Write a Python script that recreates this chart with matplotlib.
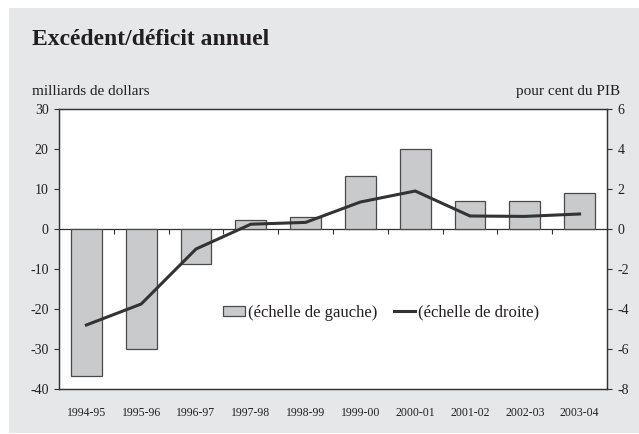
import matplotlib.pyplot as plt
from matplotlib.patches import Rectangle
import numpy as np

plt.rcParams['font.family'] = ['Liberation Serif', 'DejaVu Serif']
plt.rcParams['axes.unicode_minus'] = False

# annual surplus/deficit, federal
years = ["1994-95", "1995-96", "1996-97", "1997-98", "1998-99",
         "1999-00", "2000-01", "2001-02", "2002-03", "2003-04"]
billions = [-36.8, -30.1, -8.7, 2.2, 2.9, 13.2, 20.1, 7.1, 7.0, 9.1]   # left scale
pct_gdp = [-4.8, -3.75, -1.0, 0.24, 0.33, 1.35, 1.9, 0.65, 0.63, 0.75]  # right scale

ink = '#231f20'
frame = '#333333'
bg = '#e6e7e8'

fig = plt.figure(figsize=(6.39, 4.34), dpi=100, facecolor='white')
fig.patches.append(Rectangle((9 / 639, 1 / 434), 1 - 9 / 639, 425 / 434,
                             transform=fig.transFigure, facecolor=bg,
                             edgecolor='none', zorder=-10))

ax = fig.add_axes([59 / 639, 45 / 434, 548 / 639, 280 / 434])
ax2 = ax.twinx()

x = np.arange(len(years))
ax.bar(x, billions, width=0.56, color='#c9cacc', edgecolor='#4a4a4a',
       linewidth=0.9, label='(échelle de gauche)', zorder=2)
ax2.plot(x, pct_gdp, color=frame, lw=2.2, label='(échelle de droite)',
         solid_joinstyle='miter', zorder=3)

ax.set_xlim(-0.5, len(years) - 0.5)
ax.set_ylim(-40, 30)
ax.set_yticks(range(-40, 31, 10))
ax2.set_ylim(-8, 6)
ax2.set_yticks(range(-8, 7, 2))

ax.set_xticks(x)
ax.set_xticklabels(years)
ax.tick_params(axis='x', length=0, pad=13, labelsize=8.5, colors=ink)
ax.tick_params(axis='y', length=3.5, width=0.8, pad=4, labelsize=10,
               colors=ink, color=frame)
ax2.tick_params(axis='y', length=3.5, width=0.8, pad=4, labelsize=10,
                colors=ink, color=frame)

for a in (ax, ax2):
    for s in a.spines.values():
        s.set_color(frame)
        s.set_linewidth(0.9)

# zero line with ticks between the years
zero = ax.secondary_xaxis(0, transform=ax.transData)
zero.set_xticks(x[:-1] + 0.5)
zero.tick_params(axis='x', direction='out', length=3.5, width=0.8,
                 color=frame, labelbottom=False)
zero.spines['bottom'].set_color(frame)
zero.spines['bottom'].set_linewidth(0.9)

fig.text(32 / 639, 1 - 45 / 434, 'Excédent/déficit annuel', fontsize=17,
         fontweight='bold', color=ink, ha='left', va='baseline')
fig.text(32 / 639, 1 - 95 / 434, 'milliards de dollars', fontsize=11,
         color=ink, ha='left', va='baseline')
fig.text(620 / 639, 1 - 95 / 434, 'pour cent du PIB', fontsize=11,
         color=ink, ha='right', va='baseline')

h1, l1 = ax.get_legend_handles_labels()
h2, l2 = ax2.get_legend_handles_labels()
leg = ax2.legend(h1 + h2, l1 + l2, ncol=2, loc='center',
                 bbox_to_anchor=(0.588, 0.272), frameon=False, fontsize=12,
                 handlelength=1.3, handleheight=0.6, handletextpad=0.15,
                 columnspacing=1.0, borderpad=0)
for t in leg.get_texts():
    t.set_color(ink)

fig.savefig('out.png', dpi=100, facecolor='white')
